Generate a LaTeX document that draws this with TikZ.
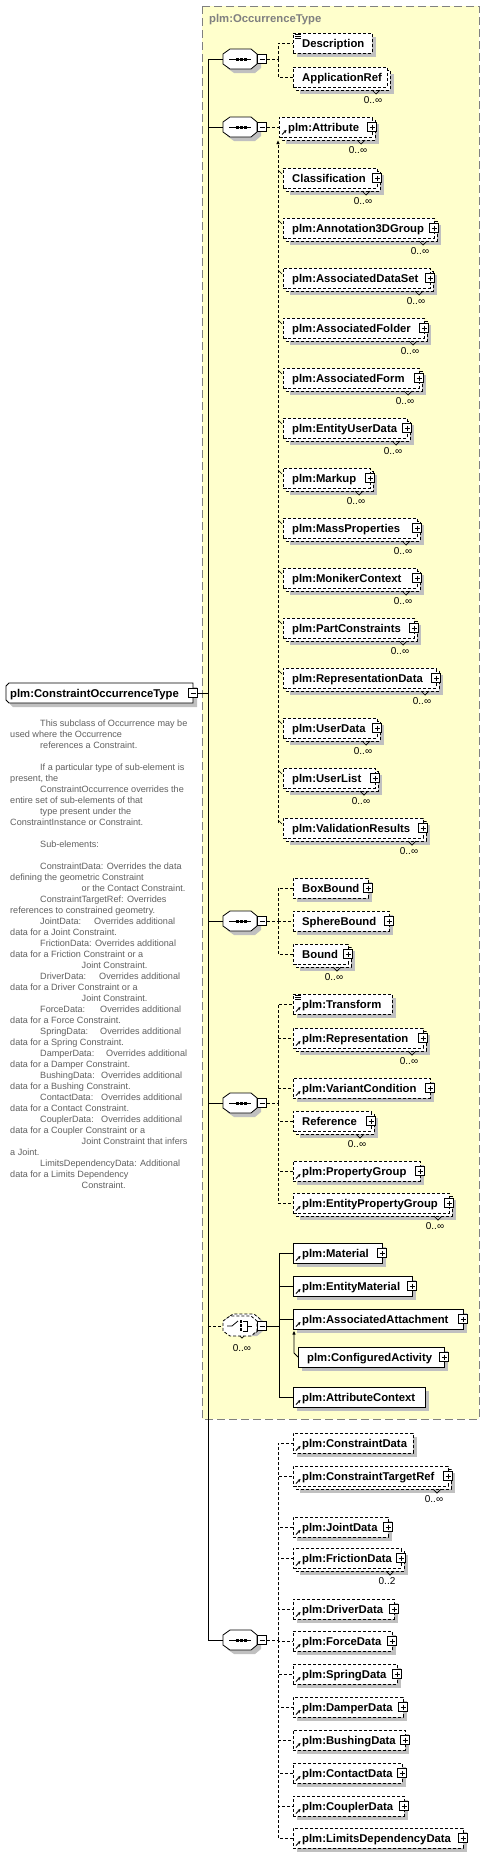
\documentclass[tikz,border=0pt]{standalone}
\usepackage{fontspec}
\setmainfont{Liberation Sans}
\usetikzlibrary{arrows.meta}
\definecolor{yel}{RGB}{255,255,204}
\definecolor{shc}{RGB}{192,192,192}
\definecolor{ttl}{RGB}{128,128,128}
\definecolor{dsc}{RGB}{96,96,96}
\newcommand\elfont{\fontsize{11.3}{13}\selectfont\bfseries}
\tikzset{
  dsh/.style={dash pattern=on 3pt off 2pt},
  ebox/.style={draw, fill=white, line width=.8pt, anchor=north west, minimum height=20pt, inner sep=0pt, outer sep=0pt},
  etext/.style={anchor=base west, inner sep=0pt, font=\elfont},
  mtext/.style={inner sep=0pt, font=\fontsize{10}{12}\selectfont},
  cl/.style={line width=.8pt},
  dl/.style={line width=.8pt, dsh},
  minusb/.style={draw, fill=white, line width=.7pt, minimum size=9pt, inner sep=0pt},
  dtext/.style={anchor=base west, inner sep=0pt, font=\fontsize{9.1}{11}\selectfont, text=dsc},
  arr/.style={-{Latex[length=4pt,width=3.5pt]}}
}
% single element box: name x ytop R style text
\newcommand\xEb[6]{%
  \fill[shc] (#2+4,#3+4) rectangle (#4+4,#3+24);
  \node[ebox,#5,minimum width=#4-#2] (#1) at (#2,#3) {};
  \node[etext] (#1-t) at (#2+9,#3+14.5) {#6};
}
% multiple element box
\newcommand\xEm[7]{%
  \fill[shc] (#2+7,#3+7) rectangle (#4+7,#3+27);
  \draw[line width=.8pt,#5,fill=white] (#2+3,#3+3) rectangle (#4+3,#3+23);
  \draw[line width=.7pt] (#4-15,#3+23) -- (#4-11,#3+27) -- (#4-7,#3+23);
  \node[ebox,#5,minimum width=#4-#2] (#1) at (#2,#3) {};
  \node[etext] (#1-t) at (#2+9,#3+14.5) {#6};
  \node[mtext] (#1-m) at (#4-14,#3+33) {#7};
}
\newcommand\xPl[2]{%
  \draw[fill=white,line width=.7pt] (#1-4.5,#2+5.5) rectangle (#1+4.5,#2+14.5);
  \draw[line width=.7pt] (#1-2.5,#2+10)--(#1+2.5,#2+10) (#1,#2+7.5)--(#1,#2+12.5);
}
\newcommand\xRa[2]{%
  \draw[line width=.8pt,-{Stealth[length=3pt,width=3pt]}] (#1+3,#2+17.5)--(#1+7.5,#2+13);
}
\newcommand\xDc[2]{%
  \draw[line width=.6pt] (#1+2,#2+1)--(#1+8,#2+1) (#1+2,#2+3)--(#1+8,#2+3) (#1+2,#2+5)--(#1+8,#2+5);
}
% sequence symbol: name, cy
\newcommand\xSq[2]{%
  \fill[shc] (227,#2-1)--(234,#2-6)--(255,#2-6)--(261,#2-1)--(261,#2+9)--(255,#2+14)--(234,#2+14)--(227,#2+9)--cycle;
  \draw[cl,fill=white] (223,#2-5)--(230,#2-10)--(251,#2-10)--(257,#2-5)--(257,#2+5)--(251,#2+10)--(230,#2+10)--(223,#2+5)--cycle;
  \draw[cl] (229,#2)--(251,#2);
  \fill (235.5,#2-1.5) rectangle +(3,3);
  \fill (239.5,#2-1.5) rectangle +(3,3);
  \fill (243.5,#2-1.5) rectangle +(3,3);
  \node[inner sep=0pt,minimum width=34pt,minimum height=20pt] (#1) at (240,#2) {};
  \node[minusb] (#1m) at (262,#2) {};
  \draw[line width=.7pt] (259.5,#2)--(264.5,#2);
}
\newcommand\xD[3]{\node[dtext] (d#1) at (#2,726.5+11*#1) {#3};}
\newcommand\xTb[2]{\makebox[#1pt][l]{#2}}
\begin{document}
\begin{tikzpicture}[x=1pt,y=-1pt]
\useasboundingbox (0,0) rectangle (484,1855);
\fill[white] (0,0) rectangle (484,1855);
% yellow complex type box
\draw[ttl,line width=1pt,dash pattern=on 8pt off 4pt,fill=yel] (202,6) rectangle (479,1419);
\node[anchor=base west, inner sep=0pt, font=\elfont, text=ttl] (title) at (209,23) {plm:OccurrenceType};

% root element
\fill[shc] (13,687)--(197,687)--(197,707)--(13,707)--(10,704)--(10,690)--cycle;
\draw[cl,fill=white] (9,683)--(193,683)--(193,703)--(9,703)--(6,700)--(6,686)--cycle;
\node[inner sep=0pt,anchor=north west,minimum width=187pt,minimum height=20pt] (root) at (6,683) {};
\node[etext] (root-t) at (10,697.5) {plm:ConstraintOccurrenceType};
\node[minusb] (rootm) at (193,693) {};
\draw[line width=.7pt] (190.5,693)--(195.5,693);

% description
\xD{0}{40}{This subclass of Occurrence may be}
\xD{1}{10}{used where the Occurrence}
\xD{2}{40}{references a Constraint.}
\xD{4}{40}{If a particular type of sub-element is}
\xD{5}{10}{present, the}
\xD{6}{40}{ConstraintOccurrence overrides the}
\xD{7}{10}{entire set of sub-elements of that}
\xD{8}{40}{type present under the}
\xD{9}{10}{ConstraintInstance or Constraint.}
\xD{11}{40}{Sub-elements:}
\xD{13}{40}{ConstraintData: Overrides the data}
\xD{14}{10}{defining the geometric Constraint}
\xD{15}{81.5}{or the Contact Constraint.}
\xD{16}{40}{ConstraintTargetRef: Overrides}
\xD{17}{10}{references to constrained geometry.}
\xD{18}{40}{\xTb{54}{JointData:}Overrides additional}
\xD{19}{10}{data for a Joint Constraint.}
\xD{20}{40}{FrictionData: Overrides additional}
\xD{21}{10}{data for a Friction Constraint or a}
\xD{22}{81.5}{Joint Constraint.}
\xD{23}{40}{\xTb{59}{DriverData:}Overrides additional}
\xD{24}{10}{data for a Driver Constraint or a}
\xD{25}{81.5}{Joint Constraint.}
\xD{26}{40}{\xTb{60}{ForceData:}Overrides additional}
\xD{27}{10}{data for a Force Constraint.}
\xD{28}{40}{\xTb{60}{SpringData:}Overrides additional}
\xD{29}{10}{data for a Spring Constraint.}
\xD{30}{40}{\xTb{66}{DamperData:}Overrides additional}
\xD{31}{10}{data for a Damper Constraint.}
\xD{32}{40}{\xTb{61}{BushingData:}Overrides additional}
\xD{33}{10}{data for a Bushing Constraint.}
\xD{34}{40}{\xTb{61}{ContactData:}Overrides additional}
\xD{35}{10}{data for a Contact Constraint.}
\xD{36}{40}{\xTb{61}{CouplerData:}Overrides additional}
\xD{37}{10}{data for a Coupler Constraint or a}
\xD{38}{81.5}{Joint Constraint that infers}
\xD{39}{10}{a Joint.}
\xD{40}{40}{LimitsDependencyData: Additional}
\xD{41}{10}{data for a Limits Dependency}
\xD{42}{81.5}{Constraint.}

% sequences
\xSq{s1}{59}
\xSq{s2}{127}
\xSq{s3}{921}
\xSq{s4}{1103}
\xSq{s6}{1640}
% choice (optional, repeated)
\fill[shc] (229,1321)--(236,1316)--(257,1316)--(263,1321)--(263,1331)--(257,1336)--(236,1336)--(229,1331)--cycle;
\draw[cl,dsh,fill=white] (226,1319)--(233,1314)--(254,1314)--(260,1319)--(260,1329)--(254,1334)--(233,1334)--(226,1329)--cycle;
\draw[line width=.7pt] (238,1334)--(242,1338)--(246,1334);
\draw[cl,dsh,fill=white] (223,1321)--(230,1316)--(251,1316)--(257,1321)--(257,1331)--(251,1336)--(230,1336)--(223,1331)--cycle;
\draw[cl] (227,1326)--(232,1326)--(238,1321);
\fill (239.5,1320) rectangle +(2.5,2.5);
\fill (239.5,1324) rectangle +(2.5,2.5);
\fill (239.5,1328) rectangle +(2.5,2.5);
\draw[cl] (243,1321)--(247,1321)--(247,1331)--(243,1331) (247,1326)--(252,1326);
\node[inner sep=0pt,minimum width=34pt,minimum height=20pt] (s5) at (240,1326) {};
\node[minusb] (s5m) at (262,1326) {};
\draw[line width=.7pt] (259.5,1326)--(264.5,1326);
\node[mtext] (s5-m) at (242,1348) {0..∞};

% group 1
\xEb{descr}{293}{33}{372}{dsh}{Description}\xDc{293}{33}
\xEm{appref}{293}{67}{387}{dsh}{ApplicationRef}{0..∞}

% group 2
\xEm{attr}{279}{117}{372}{dsh}{plm:Attribute}{0..∞}\xPl{372}{117}\xRa{279}{117}
\xEm{clas}{283}{168}{377}{dsh}{Classification}{0..∞}\xPl{377}{168}
\xEm{anno}{283}{218}{434}{dsh}{plm:Annotation3DGroup}{0..∞}\xPl{434}{218}
\xEm{adset}{283}{268}{430}{dsh}{plm:AssociatedDataSet}{0..∞}\xPl{430}{268}
\xEm{afold}{283}{318}{424}{dsh}{plm:AssociatedFolder}{0..∞}\xPl{424}{318}
\xEm{aform}{283}{368}{419}{dsh}{plm:AssociatedForm}{0..∞}\xPl{419}{368}
\xEm{eud}{283}{418}{407}{dsh}{plm:EntityUserData}{0..∞}\xPl{407}{418}
\xEm{mark}{283}{468}{370}{dsh}{plm:Markup}{0..∞}\xPl{370}{468}
\xEm{mass}{283}{518}{417}{dsh}{plm:MassProperties}{0..∞}\xPl{417}{518}
\xEm{monik}{283}{568}{417}{dsh}{plm:MonikerContext}{0..∞}\xPl{417}{568}
\xEm{partc}{283}{618}{414}{dsh}{plm:PartConstraints}{0..∞}\xPl{414}{618}
\xEm{repd}{283}{668}{436}{dsh}{plm:RepresentationData}{0..∞}\xPl{436}{668}
\xEm{usrd}{283}{718}{377}{dsh}{plm:UserData}{0..∞}\xPl{377}{718}
\xEm{usrl}{283}{768}{375}{dsh}{plm:UserList}{0..∞}\xPl{375}{768}
\xEm{valr}{283}{818}{423}{dsh}{plm:ValidationResults}{0..∞}\xPl{423}{818}

% group 3
\xEb{boxb}{293}{878}{368}{dsh}{BoxBound}\xPl{368}{878}
\xEb{sphb}{293}{911}{389}{dsh}{SphereBound}\xPl{389}{911}
\xEm{bnd}{293}{944}{348}{dsh}{Bound}{0..∞}\xPl{348}{944}

% group 4
\xEb{trf}{293}{994}{392}{dsh}{plm:Transform}\xDc{293}{994}\xRa{293}{994}
\xEm{rep}{293}{1028}{423}{dsh}{plm:Representation}{0..∞}\xPl{423}{1028}\xRa{293}{1028}
\xEb{varc}{293}{1078}{430}{dsh}{plm:VariantCondition}\xPl{430}{1078}\xRa{293}{1078}
\xEm{refr}{293}{1111}{371}{dsh}{Reference}{0..∞}\xPl{371}{1111}
\xEb{pgrp}{293}{1161}{420}{dsh}{plm:PropertyGroup}\xPl{420}{1161}\xRa{293}{1161}
\xEm{epg}{293}{1193}{449}{dsh}{plm:EntityPropertyGroup}{0..∞}\xPl{449}{1193}\xRa{293}{1193}

% group 5 (choice)
\xEb{mat}{293}{1243}{382}{solid}{plm:Material}\xPl{382}{1243}\xRa{293}{1243}
\xEb{emat}{293}{1276}{412}{solid}{plm:EntityMaterial}\xPl{412}{1276}\xRa{293}{1276}
\xEb{aatt}{293}{1309}{463}{solid}{plm:AssociatedAttachment}\xPl{463}{1309}\xRa{293}{1309}
\xEb{cact}{298}{1347}{444}{solid}{plm:ConfiguredActivity}\xPl{444}{1347}
\xEb{actx}{293}{1387}{425}{solid}{plm:AttributeContext}\xRa{293}{1387}

% group 6
\xEb{cdat}{293}{1433}{413}{dsh}{plm:ConstraintData}\xRa{293}{1433}
\xEm{ctr}{293}{1466}{448}{dsh}{plm:ConstraintTargetRef}{0..∞}\xPl{448}{1466}\xRa{293}{1466}
\xEb{jd}{293}{1517}{388}{dsh}{plm:JointData}\xPl{388}{1517}\xRa{293}{1517}
\xEm{fd}{293}{1548}{401}{dsh}{plm:FrictionData}{0..2}\xPl{401}{1548}\xRa{293}{1548}
\xEb{dd}{293}{1599}{394}{dsh}{plm:DriverData}\xPl{394}{1599}\xRa{293}{1599}
\xEb{fo}{293}{1631}{392}{dsh}{plm:ForceData}\xPl{392}{1631}\xRa{293}{1631}
\xEb{sd}{293}{1664}{397}{dsh}{plm:SpringData}\xPl{397}{1664}\xRa{293}{1664}
\xEb{dm}{293}{1697}{403}{dsh}{plm:DamperData}\xPl{403}{1697}\xRa{293}{1697}
\xEb{bd}{293}{1730}{405}{dsh}{plm:BushingData}\xPl{405}{1730}\xRa{293}{1730}
\xEb{cd}{293}{1763}{402}{dsh}{plm:ContactData}\xPl{402}{1763}\xRa{293}{1763}
\xEb{cpd}{293}{1796}{404}{dsh}{plm:CouplerData}\xPl{404}{1796}\xRa{293}{1796}
\xEb{ldd}{293}{1828}{463}{dsh}{plm:LimitsDependencyData}\xPl{463}{1828}\xRa{293}{1828}

% spine
\coordinate (j0) at (208,693);
\coordinate (j1) at (208,59);
\coordinate (j2) at (208,127);
\coordinate (j3) at (208,921);
\coordinate (j4) at (208,1103);
\coordinate (j5) at (208,1326);
\coordinate (j6) at (208,1640);
\draw[cl] (j1) -- (j6);
\draw[cl] (rootm.east) -- (j0);
\foreach \k in {1,2,3,4,6} {\draw[cl] (j\k) -- (s\k.west);}
\draw[dl] (j5) -- (s5.west);

% group 1 connectors
\coordinate (b1) at (278,59);
\draw[dl] (s1m.east) -- (b1);
\foreach \n in {descr,appref} {\draw[dl] (b1) |- (\n.west);}
% group 2 connectors
\draw[dl] (s2m.east) -- (attr.west);
\coordinate (b2t) at (278,140);
\coordinate (b2b) at (278,823);
\draw[dl,arr] (b2b) -- (b2t);
\foreach \n in {clas,anno,adset,afold,aform,eud,mark,mass,monik,partc,repd,usrd,usrl,valr}
  {\draw[line width=.6pt] ([shift={(-5,2)}]\n.north west) -- ([shift={(-1,6)}]\n.north west);}
% group 3
\coordinate (b3) at (278,921);
\draw[dl] (s3m.east) -- (b3);
\foreach \n in {boxb,sphb,bnd} {\draw[dl] (b3) |- (\n.west);}
% group 4
\coordinate (b4) at (278,1103);
\draw[dl] (s4m.east) -- (b4);
\foreach \n in {trf,rep,varc,refr,pgrp,epg} {\draw[dl] (b4) |- (\n.west);}
% group 5
\coordinate (b5) at (279,1326);
\draw[cl] (s5m.east) -- (b5);
\foreach \n in {mat,emat,aatt,actx} {\draw[cl] (b5) |- (\n.west);}
\draw[cl,arr] (cact.west) -- (294,1353) -- (294,1330.5);
% group 6
\coordinate (b6) at (278,1640);
\draw[dl] (s6m.east) -- (b6);
\foreach \n in {cdat,ctr,jd,fd,dd,fo,sd,dm,bd,cd,cpd,ldd} {\draw[dl] (b6) |- (\n.west);}
\end{tikzpicture}
\end{document}
